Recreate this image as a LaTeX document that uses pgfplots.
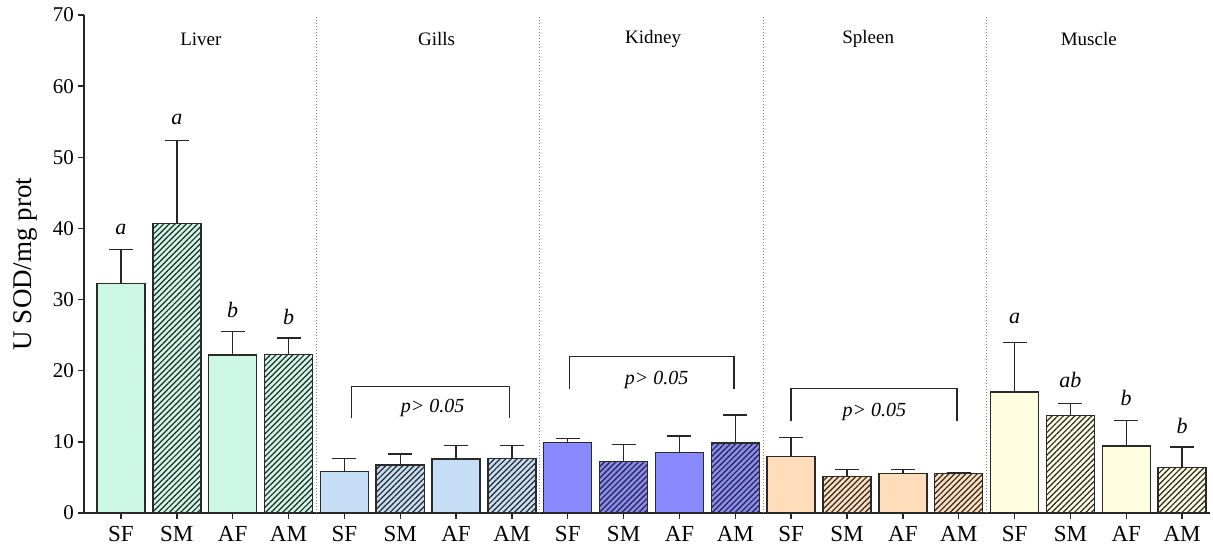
\documentclass[border=0pt]{standalone}
\usepackage{fontspec}
\setmainfont{Liberation Serif}
\usepackage{pgfplots}
\pgfplotsset{compat=1.18}
\usetikzlibrary{patterns.meta}
\definecolor{cliv}{HTML}{CCF7E6}
\definecolor{cgil}{HTML}{C6DDF6}
\definecolor{ckid}{HTML}{8888FF}
\definecolor{cspl}{HTML}{FFDDBB}
\definecolor{cmus}{HTML}{FFFDE0}
\definecolor{edge}{HTML}{2A2A2A}
\tikzset{hatch/.style={postaction={pattern={Lines[angle=45,distance=2pt,line width=0.6pt]},pattern color=black!85}}}
\begin{document}
\begin{tikzpicture}
\useasboundingbox (-42pt,-16.5pt) rectangle (564.5pt,256.5pt);
\begin{axis}[
  at={(0,0)}, anchor=south west,
  scale only axis, width=563pt, height=249pt,
  xmin=-0.662, xmax=19.5, ymin=0, ymax=70,
  axis lines=left, axis line style={-, line width=0.7pt, color=black!85},
  tick style={line width=0.7pt, color=black!85},
  tick align=outside, major tick length=3pt,
  ytick={0,10,...,70},
  xtick={0,...,19},
  xticklabels={SF,SM,AF,AM,SF,SM,AF,AM,SF,SM,AF,AM,SF,SM,AF,AM,SF,SM,AF,AM},
  /pgf/number format/assume math mode=true,
  yticklabel style={font=\fontsize{10.5}{12}\selectfont, xshift=1.5pt},
  xticklabel style={font=\fontsize{11.5}{13}\selectfont, yshift=0pt},
  ylabel={U SOD/mg prot},
  ylabel style={font=\fontsize{13.5}{15}\selectfont, at={(axis description cs:-0.052,0.5)}, anchor=center},
  every axis plot/.append style={ybar, bar width=0.86, bar shift=0pt, draw=edge, line width=0.7pt,
    error bars/y dir=plus, error bars/y explicit,
    error bars/error bar style={line width=0.7pt, color=black!85, solid},
    error bars/error mark options={rotate=90, mark size=6pt, line width=0.7pt, color=black!85, solid}},
  clip=false,
]
% Liver
\addplot[fill=cliv] coordinates {(0,32.3) +- (0,4.7) (2,22.2) +- (0,3.3)};
\addplot[fill=cliv, hatch] coordinates {(1,40.7) +- (0,11.7) (3,22.3) +- (0,2.3)};
% Gills
\addplot[fill=cgil] coordinates {(4,5.8) +- (0,1.9) (6,7.6) +- (0,1.9)};
\addplot[fill=cgil, hatch] coordinates {(5,6.75) +- (0,1.55) (7,7.7) +- (0,1.75)};
% Kidney
\addplot[fill=ckid] coordinates {(8,9.9) +- (0,0.6) (10,8.5) +- (0,2.3)};
\addplot[fill=ckid, hatch] coordinates {(9,7.2) +- (0,2.45) (11,9.85) +- (0,3.95)};
% Spleen
\addplot[fill=cspl] coordinates {(12,7.95) +- (0,2.65) (14,5.55) +- (0,0.55)};
\addplot[fill=cspl, hatch] coordinates {(13,5.15) +- (0,0.95) (15,5.55) +- (0,0.1)};
% Muscle
\addplot[fill=cmus] coordinates {(16,17.0) +- (0,7.0) (18,9.4) +- (0,3.6)};
\addplot[fill=cmus, hatch] coordinates {(17,13.7) +- (0,1.65) (19,6.4) +- (0,2.9)};

% separators
\foreach \s in {3.5,7.5,11.5,15.5}{
  \edef\tmp{\noexpand\draw[densely dotted, gray, line width=0.5pt] (axis cs:\s,0) -- (axis cs:\s,70);}\tmp
}
% group labels
\tikzset{grp/.style={font=\fontsize{9.5}{11}\selectfont}}
\node[grp] at (axis cs:1.43,66.6) {Liver};
\node[grp] at (axis cs:5.65,66.6) {Gills};
\node[grp] at (axis cs:9.53,66.6) {Kidney};
\node[grp] at (axis cs:13.38,66.6) {Spleen};
\node[grp] at (axis cs:17.33,66.6) {Muscle};
% letters
\tikzset{let/.style={font=\itshape\fontsize{11}{12}\selectfont}}
\node[let] at (axis cs:0,39.8) {a};
\node[let] at (axis cs:1,55.3) {a};
\node[let] at (axis cs:2,28.6) {b};
\node[let] at (axis cs:3,27.6) {b};
\node[let] at (axis cs:16,27.4) {a};
\node[let] at (axis cs:17,18.7) {ab};
\node[let] at (axis cs:18,16.2) {b};
\node[let] at (axis cs:19,12.2) {b};
% brackets
\tikzset{br/.style={line width=0.7pt, color=black!85}, pv/.style={font=\itshape\fontsize{10}{12}\selectfont}}
\draw[br] (axis cs:4.13,13.35) -- (axis cs:4.13,17.8) -- (axis cs:6.96,17.8) -- (axis cs:6.96,13.35);
\node[pv] at (axis cs:5.58,14.7) {p> 0.05};
\draw[br] (axis cs:8.03,17.5) -- (axis cs:8.03,22.0) -- (axis cs:10.98,22.0) -- (axis cs:10.98,17.5);
\node[pv] at (axis cs:9.59,18.7) {p> 0.05};
\draw[br] (axis cs:12.0,13.0) -- (axis cs:12.0,17.5) -- (axis cs:14.97,17.5) -- (axis cs:14.97,13.0);
\node[pv] at (axis cs:13.49,14.2) {p> 0.05};
\end{axis}
\end{tikzpicture}
\end{document}
